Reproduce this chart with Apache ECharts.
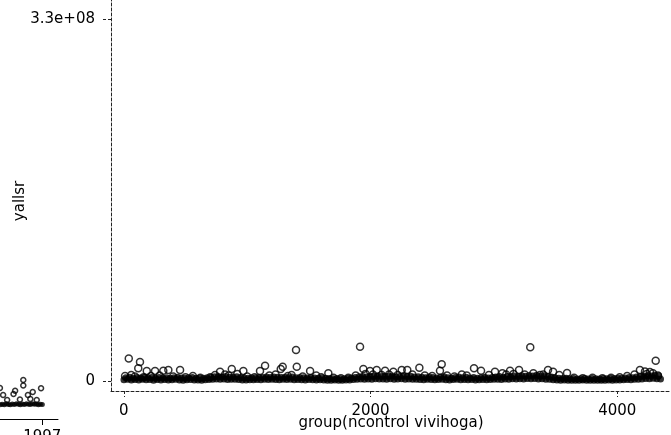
<!DOCTYPE html>
<html>
<head>
<meta charset="utf-8">
<title>yallsr</title>
<script src="https://cdn.jsdelivr.net/npm/echarts@6/dist/echarts.min.js"></script>
<style>
    html, body { margin: 0; padding: 0; background: #fff; }
    #chart { width: 671px; height: 435px; }
</style>
</head>
<body>
<div id="chart"></div>
<script>
    // yallsr values are kept in millions
    var bandStart = 1, bandStep = 30;   // group ids of the dense band
    var bandY = [
      1.2, 1.6, 1.0, 1.4, 0.9, 1.5, 1.1, 1.3, 0.8, 1.4,
      1.0, 1.3, 0.9, 1.2, 1.5, 1.0, 0.8, 1.1, 1.3, 0.9,
      1.0, 0.8, 1.2, 1.4, 1.6, 1.8, 1.5, 1.9, 1.4, 1.6,
      1.7, 1.3, 1.0, 0.9, 1.2, 1.1, 1.4, 1.2, 1.5, 1.3,
      1.6, 1.4, 1.2, 1.5, 1.3, 1.6, 1.1, 1.4, 1.2, 1.0,
      1.3, 1.1, 0.9, 1.2, 1.0, 0.8, 0.7, 0.9, 0.8, 0.7,
      0.9, 1.0, 1.3, 1.6, 1.8, 1.5, 1.9, 1.7, 2.0, 1.8,
      1.9, 1.7, 2.0, 1.6, 1.8, 2.1, 1.7, 1.9, 1.5, 1.6,
      1.4, 1.2, 1.5, 1.3, 1.1, 1.4, 1.6, 1.2, 1.0, 1.3,
      1.5, 1.2, 1.4, 1.1, 1.3, 1.0, 1.2, 1.4, 1.1, 1.3,
      1.5, 1.7, 1.4, 1.8, 1.6, 2.0, 1.8, 2.1, 1.9, 2.2,
      2.0, 2.3, 1.9, 2.1, 1.7, 1.5, 1.2, 1.0, 0.8, 0.9,
      0.7, 0.8, 0.6, 0.7, 0.9, 0.6, 0.8, 0.7, 0.6, 0.8,
      0.7, 0.9, 0.8, 1.0, 0.9, 1.1, 1.3, 1.2, 1.5, 1.7,
      1.9, 2.2, 2.0, 2.4, 2.1, 1.8
    ];
    // upper edge of the band, half a step further on
    var bandTopY = [
      3.0, 3.4, 2.6, 3.2, 2.8, 3.5, 2.9, 3.1, 2.5, 3.3,
      2.7, 3.0, 2.6, 2.9, 3.4, 2.8, 2.5, 2.9, 3.1, 2.6,
      2.7, 2.4, 3.0, 3.4, 3.8, 4.0, 3.6, 4.2, 3.5, 3.7,
      3.9, 3.2, 2.8, 2.6, 3.0, 2.9, 3.3, 3.1, 3.6, 3.2,
      3.7, 3.4, 3.1, 3.5, 3.2, 3.7, 2.9, 3.3, 3.0, 2.7,
      3.1, 2.8, 2.4, 2.9, 2.6, 2.2, 2.0, 2.3, 2.1, 2.0,
      2.4, 2.7, 3.2, 3.8, 4.2, 3.7, 4.4, 4.0, 4.6, 4.2,
      4.4, 4.0, 4.6, 3.8, 4.2, 4.8, 4.0, 4.4, 3.6, 3.8,
      3.4, 3.0, 3.6, 3.2, 2.8, 3.4, 3.8, 3.0, 2.6, 3.2,
      3.6, 3.0, 3.4, 2.8, 3.2, 2.6, 3.0, 3.4, 2.8, 3.2,
      3.6, 4.0, 3.4, 4.2, 3.8, 4.6, 4.2, 4.8, 4.4, 5.0,
      4.6, 5.2, 4.4, 4.8, 4.0, 3.6, 3.0, 2.6, 2.2, 2.4,
      2.0, 2.2, 1.8, 2.0, 2.4, 1.8, 2.2, 2.0, 1.8, 2.2,
      2.0, 2.4, 2.2, 2.6, 2.4, 2.8, 3.2, 3.0, 3.6, 4.0,
      4.4, 5.0, 4.6, 5.4, 4.8
    ];

    // single circles that stand out of the band
    var dotGroup = [
      10, 40, 60, 90, 117, 131, 160, 186, 220, 253, 290, 320, 361, 400, 456, 500, 560, 620, 700, 740,
      780, 820, 850, 875, 920, 969, 1000, 1060, 1104, 1145, 1180, 1230, 1272, 1288, 1330, 1360, 1396, 1402, 1450, 1510,
      1560, 1600, 1658, 1700, 1760, 1820, 1880, 1915, 1942, 1960, 1996, 2020, 2050, 2090, 2118, 2150, 2185, 2220, 2253, 2298,
      2340, 2396, 2440, 2500, 2563, 2577, 2620, 2680, 2740, 2780, 2839, 2896, 2960, 3009, 3069, 3100, 3131, 3160, 3204, 3250,
      3295, 3320, 3374, 3400, 3439, 3480, 3530, 3593, 3650, 3720, 3800, 3880, 3950, 4020, 4080, 4140, 4184, 4225, 4240, 4265,
      4290, 4312, 4330
    ];
    var dotY = [
      4.5, 20.5, 5.5, 4, 11.6, 17.4, 3.5, 9.1, 4.5, 9.1, 5, 9.4, 10, 4, 10, 3.5, 4.5, 3, 3.5, 5.5,
      8.5, 6, 5, 11, 6.5, 9.1, 4, 3.5, 9.1, 14, 5, 6, 11, 13, 4.5, 5.5, 28.3, 13, 4, 9.1,
      5, 3.5, 7, 3, 2.5, 3, 5, 31.3, 11, 6.5, 9.1, 6, 10, 5.5, 9.4, 6, 8.5, 5.5, 10, 10,
      6, 12.1, 5, 4.5, 9.4, 15.2, 5, 4, 6, 5, 11.6, 9.4, 5.5, 8.5, 7, 6, 9.4, 6.5, 10, 6,
      30.7, 7, 5.5, 6, 10, 8.5, 5.5, 7.3, 3, 2.5, 3, 2.5, 3, 3.5, 4.5, 6, 10, 8.7, 6.5, 8.2,
      7, 18.5, 5
    ];

    var xTicks = [0, 2000, 4000];
    var yTicks = [0, 330];

    // piece of the neighbouring graph showing at the bottom left
    var fragX = [1991.75, 1992, 1992.25, 1992.5, 1992.75, 1993, 1993.25, 1993.5, 1993.75, 1994, 1994.25,
                 1994.5, 1994.75, 1995, 1995.25, 1995.5, 1995.75, 1996, 1996.25, 1996.5, 1996.75, 1997];
    var fragY = [0.8, 1.2, 0.6, 1.5, 1.0, 0.7, 1.3, 0.9, 1.6, 1.1, 0.8,
                 1.4, 1.0, 1.7, 1.2, 0.9, 1.5, 1.1, 1.3, 0.8, 1.2, 1.0];
    var fragDotX = [1991.7, 1992.1, 1992.6, 1993.4, 1993.6, 1994.2, 1994.62, 1994.62, 1995.2, 1995.5, 1995.8, 1996.3, 1996.84];
    var fragDotY = [16, 9.6, 5, 10.5, 13.5, 5.5, 23.3, 18.2, 9.6, 6, 12.3, 5, 15.7];
    var fragTicks = [1997];

    var FONT = 'DejaVu Sans';
    var dash = { color: '#222', width: 1, type: [3, 2] };

    function stataLabel(v) {
      if (v === 0) return '0';
      return (v * 1e6).toExponential(1).replace(/e([+-])(\d)$/, function (m, s, d) {
        return 'e' + s + '0' + d;
      });
    }
    function plain(v) { return String(v); }

    var bandData = bandY.map(function (v, i) { return [bandStart + i * bandStep, v]; });
    var bandTopData = bandTopY.map(function (v, i) { return [bandStart + bandStep / 2 + i * bandStep, v]; });
    var dotData = dotGroup.map(function (g, i) { return [g, dotY[i]]; });
    var fragData = fragX.map(function (x, i) { return [x, fragY[i]]; });
    var fragDotData = fragDotX.map(function (x, i) { return [x, fragDotY[i]]; });

    var myChart = echarts.init(document.getElementById('chart'));

    var hollow = { color: 'rgba(0,0,0,0)', borderColor: '#000', borderWidth: 1.5 };

    var option = {
      animation: false,
      backgroundColor: '#fff',
      grid: [
        { left: 111, right: 0, top: 0, bottom: 44, containLabel: false, outerBoundsMode: 'none' },
        { left: 0, width: 58, top: 360, bottom: 16, containLabel: false, outerBoundsMode: 'none' }
      ],
      xAxis: [
        {
          type: 'value', gridIndex: 0, min: -104, max: 4436,
          name: 'group(ncontrol vivihoga)', nameLocation: 'middle', nameGap: 25, nameMoveOverlap: false,
          nameTextStyle: { color: '#000', fontFamily: FONT, fontSize: 15 },
          axisLine: { onZero: false, lineStyle: dash },
          axisTick: { customValues: xTicks, length: 6, lineStyle: dash },
          axisLabel: { customValues: xTicks, margin: 13, color: '#000', fontFamily: FONT, fontSize: 15, formatter: plain },
          splitLine: { show: false }
        },
        {
          type: 'value', gridIndex: 1, min: 1991.71, max: 1998.96,
          axisLine: { onZero: false, lineStyle: { color: '#000', width: 1 } },
          axisTick: { customValues: fragTicks, length: 6, lineStyle: { color: '#000' } },
          axisLabel: { customValues: fragTicks, margin: 11, color: '#000', fontFamily: FONT, fontSize: 15, formatter: plain },
          splitLine: { show: false }
        }
      ],
      yAxis: [
        {
          type: 'value', gridIndex: 0, min: -9.12, max: 347.6,
          name: 'yallsr', nameLocation: 'middle', nameGap: 83, nameMoveOverlap: false,
          nameTextStyle: { color: '#000', fontFamily: FONT, fontSize: 15, padding: [0, 11, 0, 0] },
          axisLine: { onZero: false, lineStyle: dash },
          axisTick: { customValues: yTicks, length: 8, lineStyle: dash },
          axisLabel: { customValues: yTicks, margin: 16, color: '#000', fontFamily: FONT, fontSize: 15, formatter: stataLabel },
          splitLine: { show: false }
        },
        {
          type: 'value', gridIndex: 1, min: -12.3, max: 41.5, show: false
        }
      ],
      series: [
        {
          // overplotted mass near zero
          type: 'scatter', xAxisIndex: 0, yAxisIndex: 0, silent: true,
          symbol: 'circle', symbolSize: 7,
          itemStyle: { color: '#000' },
          data: bandData
        },
        {
          type: 'scatter', xAxisIndex: 0, yAxisIndex: 0, silent: true,
          symbol: 'circle', symbolSize: 7,
          itemStyle: { color: '#000' },
          data: bandTopData
        },
        {
          type: 'scatter', xAxisIndex: 0, yAxisIndex: 0, silent: true,
          symbol: 'circle', symbolSize: 7,
          itemStyle: hollow,
          data: dotData
        },
        {
          type: 'scatter', xAxisIndex: 1, yAxisIndex: 1, silent: true,
          symbol: 'circle', symbolSize: 5,
          itemStyle: { color: '#000' },
          data: fragData
        },
        {
          type: 'scatter', xAxisIndex: 1, yAxisIndex: 1, silent: true,
          symbol: 'circle', symbolSize: 5,
          itemStyle: hollow,
          data: fragDotData
        }
      ]
    };

    myChart.setOption(option);
</script>
</body>
</html>
